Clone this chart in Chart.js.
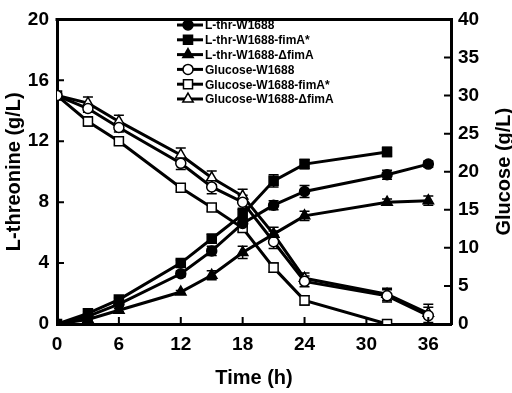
<!DOCTYPE html>
<html>
<head>
    <title>L-threonine and Glucose over Time</title>
    <script src="https://cdn.jsdelivr.net/npm/chart.js@4.4.0/dist/chart.umd.min.js"></script>
    <style>
        body {
            margin: 0;
            background: #fff;
        }
        #wrap {
            width: 512px;
            height: 393px;
        }
    </style>
</head>
<body>
    <div id="wrap"><canvas id="chart" width="512" height="393"></canvas></div>

    <script>
        // sampling times (h); the fimA* strain stops at 32 h
        const time = [0, 3, 6, 12, 15, 18, 21, 24, 32, 36];
        const timeFimA = [0, 3, 6, 12, 15, 18, 21, 24, 32];

        // L-threonine (g/L), left axis
        const thrW1688 = [0, 0.5, 1.3, 3.3, 4.8, 6.6, 7.8, 8.7, 9.8, 10.5];
        const thrFimA = [0, 0.7, 1.6, 4.0, 5.6, 7.2, 9.4, 10.5, 11.3];
        const thrDelta = [0, 0.3, 0.9, 2.1, 3.2, 4.7, 5.9, 7.1, 8.0, 8.1];
        const thrW1688Err = [0, 0.1, 0.1, 0.2, 0.3, 0.3, 0.3, 0.4, 0.3, 0.2];
        const thrFimAErr = [0, 0.1, 0.1, 0.2, 0.3, 0.4, 0.4, 0.3, 0.3];
        const thrDeltaErr = [0, 0.1, 0.1, 0.1, 0.3, 0.4, 0.2, 0.3, 0.2, 0.3];

        // Glucose (g/L), right axis
        const gluW1688 = [30, 28.3, 25.8, 21.1, 18.0, 16.0, 10.8, 5.6, 3.7, 1.1];
        const gluFimA = [30, 26.6, 24.0, 17.9, 15.3, 12.6, 7.4, 3.1, 0];
        const gluDelta = [30, 29.0, 26.6, 22.2, 19.2, 16.8, 11.8, 6.0, 3.9, 1.4];
        const gluW1688Err = [0, 0.5, 0.6, 0.8, 0.9, 0.9, 0.9, 0.7, 0.8, 1.1];
        const gluFimAErr = [0, 0.6, 0.5, 0.4, 0.5, 0.5, 0.6, 0.6, 0];
        const gluDeltaErr = [0, 0.8, 0.8, 0.9, 0.9, 0.9, 0.9, 0.7, 0.8, 1.2];

        // axis ticks
        const xTicks = [0, 6, 12, 18, 24, 30, 36];
        const thrTicks = [0, 4, 8, 12, 16, 20];
        const gluTicks = [0, 5, 10, 15, 20, 25, 30, 35, 40];

        const FONT = '"Liberation Sans", Arial, sans-serif';

        function pts(xs, ys) {
            return xs.map((x, i) => ({ x: x, y: ys[i] }));
        }

        function series(label, xs, ys, err, axis, style, filled, radius) {
            return {
                label: label,
                data: pts(xs, ys),
                err: err,
                yAxisID: axis,
                borderColor: '#000',
                borderWidth: 3,
                pointStyle: style,
                pointRadius: radius,
                pointBorderWidth: 1.5,
                pointBorderColor: '#000',
                pointBackgroundColor: filled ? '#000' : '#fff',
                fill: false,
                tension: 0
            };
        }

        const datasets = [
            series('L-thr-W1688', time, thrW1688, thrW1688Err, 'y', 'circle', true, 5),
            series('L-thr-W1688-fimA*', timeFimA, thrFimA, thrFimAErr, 'y', 'rect', true, 6.4),
            series('L-thr-W1688-\u0394fimA', time, thrDelta, thrDeltaErr, 'y', 'triangle', true, 6),
            series('Glucose-W1688', time, gluW1688, gluW1688Err, 'y2', 'circle', false, 5),
            series('Glucose-W1688-fimA*', timeFimA, gluFimA, gluFimAErr, 'y2', 'rect', false, 6.4),
            series('Glucose-W1688-\u0394fimA', time, gluDelta, gluDeltaErr, 'y2', 'triangle', false, 6)
        ];

        // error bars under the markers
        const errorBars = {
            id: 'errorBars',
            beforeDatasetsDraw(chart) {
                const ctx = chart.ctx;
                ctx.save();
                ctx.strokeStyle = '#000';
                ctx.lineWidth = 1.5;
                chart.data.datasets.forEach((ds, i) => {
                    const meta = chart.getDatasetMeta(i);
                    const ys = chart.scales[ds.yAxisID];
                    meta.data.forEach((p, j) => {
                        const e = ds.err[j];
                        if (!e) return;
                        const v = ds.data[j].y;
                        const top = ys.getPixelForValue(v + e);
                        const bot = ys.getPixelForValue(Math.max(0, v - e));
                        ctx.beginPath();
                        ctx.moveTo(p.x, top); ctx.lineTo(p.x, bot);
                        ctx.moveTo(p.x - 5, top); ctx.lineTo(p.x + 5, top);
                        ctx.moveTo(p.x - 5, bot); ctx.lineTo(p.x + 5, bot);
                        ctx.stroke();
                    });
                });
                ctx.restore();
            }
        };

        // frame: top border, inward tick marks, right axis title reading upward
        const frame = {
            id: 'frame',
            afterDraw(chart) {
                const ctx = chart.ctx;
                const a = chart.chartArea;
                ctx.save();
                ctx.strokeStyle = '#000';
                ctx.lineWidth = 3;
                ctx.beginPath();
                ctx.moveTo(a.left - 1.5, a.top);
                ctx.lineTo(a.right + 1.5, a.top);
                ctx.stroke();
                ctx.lineWidth = 2;
                ctx.beginPath();
                chart.scales.x.ticks.forEach(t => {
                    const x = chart.scales.x.getPixelForValue(t.value);
                    ctx.moveTo(x, a.bottom); ctx.lineTo(x, a.bottom - 7);
                });
                chart.scales.y.ticks.forEach(t => {
                    const y = chart.scales.y.getPixelForValue(t.value);
                    ctx.moveTo(a.left, y); ctx.lineTo(a.left + 7, y);
                });
                chart.scales.y2.ticks.forEach(t => {
                    const y = chart.scales.y2.getPixelForValue(t.value);
                    ctx.moveTo(a.right, y); ctx.lineTo(a.right - 7, y);
                });
                ctx.stroke();

                ctx.translate(chart.width - 8, (a.top + a.bottom) / 2);
                ctx.rotate(-Math.PI / 2);
                ctx.font = 'bold 20px ' + FONT;
                ctx.fillStyle = '#000';
                ctx.textAlign = 'center';
                ctx.textBaseline = 'middle';
                ctx.fillText('Glucose (g/L)', 0, 0);
                ctx.restore();
            }
        };

        // legend with line + marker samples inside the plot
        const lineLegend = {
            id: 'lineLegend',
            afterDraw(chart) {
                const ctx = chart.ctx;
                ctx.save();
                ctx.font = 'bold 12px ' + FONT;
                ctx.textBaseline = 'middle';
                chart.data.datasets.forEach((ds, i) => {
                    const y = 25 + i * 14.8;
                    const x0 = 177, x1 = 203;
                    ctx.strokeStyle = '#000';
                    ctx.lineWidth = 3;
                    ctx.beginPath();
                    ctx.moveTo(x0, y); ctx.lineTo(x1, y);
                    ctx.stroke();
                    ctx.lineWidth = 1.5;
                    ctx.fillStyle = ds.pointBackgroundColor;
                    Chart.helpers.drawPoint(ctx, {
                        pointStyle: ds.pointStyle,
                        radius: ds.pointRadius,
                        rotation: 0,
                        borderWidth: 1.5
                    }, (x0 + x1) / 2 - 2, y);
                    ctx.fillStyle = '#000';
                    ctx.fillText(ds.label, x1 + 2, y + 1);
                });
                ctx.restore();
            }
        };

        const ctx = document.getElementById('chart').getContext('2d');
        new Chart(ctx, {
            type: 'line',
            data: { datasets: datasets },
            plugins: [errorBars, frame, lineLegend],
            options: {
                responsive: false,
                animation: false,
                layout: { padding: { top: 10, left: 0, right: 0, bottom: 0 } },
                plugins: {
                    legend: { display: false },
                    tooltip: { enabled: false }
                },
                scales: {
                    x: {
                        type: 'linear',
                        min: 0,
                        max: 38.2,
                        afterBuildTicks: s => { s.ticks = xTicks.map(v => ({ value: v })); },
                        afterFit: s => { s.height = 69; },
                        grid: { display: false, drawTicks: false },
                        border: { display: true, color: '#000', width: 3 },
                        ticks: { color: '#000', padding: 9, font: { family: FONT, size: 19, weight: 'bold' } },
                        title: { display: true, text: 'Time (h)', color: '#000', padding: { top: 4, bottom: 3 },
                                 font: { family: FONT, size: 20, weight: 'bold' } }
                    },
                    y: {
                        position: 'left',
                        min: 0,
                        max: 20,
                        afterBuildTicks: s => { s.ticks = thrTicks.map(v => ({ value: v })); },
                        afterFit: s => { s.width = 57; },
                        grid: { display: false, drawTicks: false },
                        border: { display: true, color: '#000', width: 3 },
                        ticks: { color: '#000', padding: 8, font: { family: FONT, size: 19, weight: 'bold' } },
                        title: { display: true, text: 'L-threonine (g/L)', color: '#000', padding: { top: 2, bottom: 0 },
                                 font: { family: FONT, size: 20, weight: 'bold' } }
                    },
                    y2: {
                        position: 'right',
                        min: 0,
                        max: 40,
                        afterBuildTicks: s => { s.ticks = gluTicks.map(v => ({ value: v })); },
                        afterFit: s => { s.width = 61; },
                        grid: { display: false, drawTicks: false },
                        border: { display: true, color: '#000', width: 3 },
                        ticks: { color: '#000', padding: 7, font: { family: FONT, size: 19, weight: 'bold' } },
                        title: { display: false }
                    }
                }
            }
        });
    </script>
</body>
</html>
